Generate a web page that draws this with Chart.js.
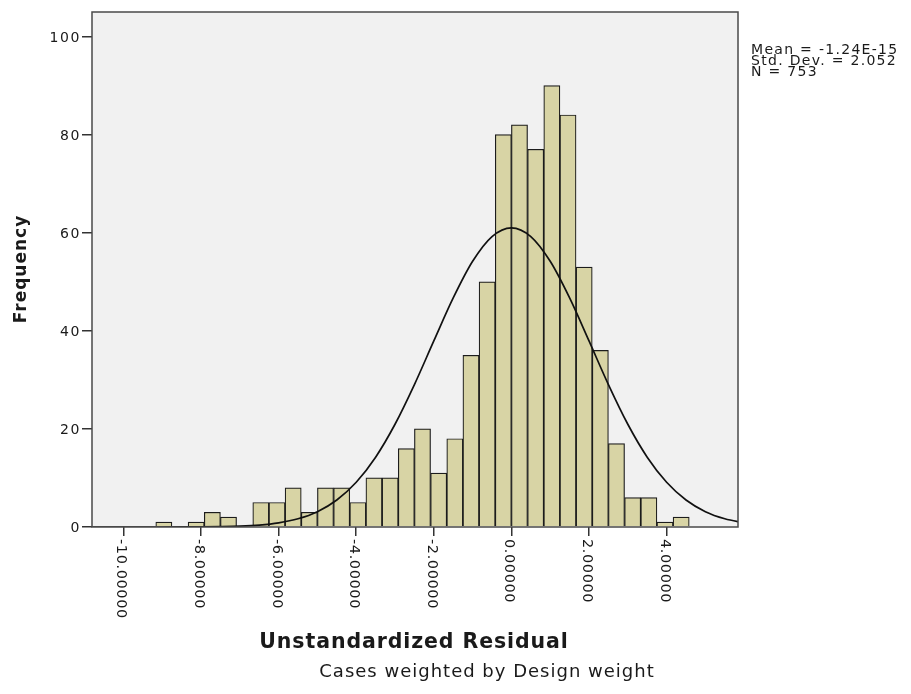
<!DOCTYPE html>
<html lang="en">
<head>
    <meta charset="UTF-8">
    <title>Histogram - Unstandardized Residual</title>
    <script src="https://cdn.jsdelivr.net/npm/chart.js"></script>
    <style>
        html, body { margin: 0; padding: 0; background: #fff; }
        canvas { display: block; }
    </style>
</head>
<body>
    <canvas id="histogram" width="911" height="694"></canvas>
    <script>
        // histogram bins (width 0.4167), centre of each bin
        const binCentres = [
            -8.958, -8.542, -8.125, -7.708, -7.292, -6.875, -6.458, -6.042, -5.625, -5.208,
            -4.792, -4.375, -3.958, -3.542, -3.125, -2.708, -2.292, -1.875, -1.458, -1.042,
            -0.625, -0.208, 0.208, 0.625, 1.042, 1.458, 1.875, 2.292, 2.708, 3.125,
            3.542, 3.958, 4.375
        ];
        const frequencies = [
            1, 0, 1, 3, 2, 0, 5, 5, 8, 3,
            8, 8, 5, 10, 10, 16, 20, 11, 18, 35,
            50, 80, 82, 77, 90, 84, 53, 36, 17, 6,
            6, 1, 2
        ];

        // normal curve overlay, read at half-unit steps
        const curveX = [
            -11, -10.5, -10, -9.5, -9, -8.5, -8, -7.5, -7, -6.5, -6, -5.5, -5, -4.5, -4, -3.5,
            -3, -2.5, -2, -1.5, -1, -0.5, 0, 0.5, 1, 1.5, 2, 2.5, 3, 3.5, 4, 4.5, 5, 5.5, 6
        ];
        const curveY = [
            0, 0, 0, 0, 0, 0.01, 0.03, 0.08, 0.18, 0.40, 0.85, 1.68, 3.13, 5.51, 9.12, 14.24,
            20.95, 29.04, 37.94, 46.70, 54.17, 59.22, 61.0, 59.22, 54.17, 46.70, 37.94, 29.04, 20.95, 14.24, 9.12, 5.51, 3.13, 1.68, 0.85
        ];

        const xTickValues = [-10, -8, -6, -4, -2, 0, 2, 4];
        const yTickValues = [0, 20, 40, 60, 80, 100];
        const statsLines = ['Mean = -1.24E-15', 'Std. Dev. = 2.052', 'N = 753'];
        const xTitle = 'Unstandardized Residual';
        const yTitle = 'Frequency';
        const footnote = 'Cases weighted by Design weight';

        const textColor = '#1a1a1a';

        function drawText(ctx, text, x, y, font, spacing, align, angle) {
            ctx.save();
            ctx.translate(x, y);
            if (angle) ctx.rotate(angle);
            ctx.font = font;
            ctx.letterSpacing = spacing + 'px';
            ctx.fillStyle = textColor;
            ctx.textAlign = align;
            ctx.textBaseline = 'alphabetic';
            ctx.fillText(text, 0, 0);
            ctx.restore();
        }

        // plot background, frame and all SPSS-style texts
        const spssPlugin = {
            id: 'spssFrame',
            beforeDraw(chart) {
                const { ctx, chartArea: a } = chart;
                ctx.save();
                ctx.fillStyle = '#f1f1f1';
                ctx.fillRect(a.left, a.top, a.right - a.left, a.bottom - a.top);
                ctx.restore();
            },
            afterDraw(chart) {
                const { ctx, chartArea: a } = chart;
                const xs = chart.scales.x;
                const ys = chart.scales.y;

                ctx.save();
                ctx.strokeStyle = '#4a4a4a';
                ctx.lineWidth = 1.5;
                ctx.strokeRect(a.left, a.top, a.right - a.left, a.bottom - a.top);
                ctx.restore();

                // y tick labels
                yTickValues.forEach(v => {
                    drawText(ctx, String(v), 81, ys.getPixelForValue(v) + 5,
                        '14px "DejaVu Sans"', 1.6, 'right', 0);
                });

                // x tick labels, reading downwards
                xTickValues.forEach(v => {
                    const px = xs.getPixelForValue(v);
                    drawText(ctx, v.toFixed(5), px - 6, 539,
                        '14.5px "DejaVu Sans"', 0.6, 'left', Math.PI / 2);
                });

                drawText(ctx, yTitle, 26, 269, 'bold 17px "DejaVu Sans"', 1, 'center', -Math.PI / 2);
                drawText(ctx, xTitle, 414, 648, 'bold 20.5px "DejaVu Sans"', 0.9, 'center', 0);
                drawText(ctx, footnote, 487, 677, '18px "DejaVu Sans"', 1, 'center', 0);

                statsLines.forEach((line, i) => {
                    drawText(ctx, line, 751, 53.5 + i * 11, '14px "DejaVu Sans"', 1.3, 'left', 0);
                });
            }
        };

        const ctx = document.getElementById('histogram').getContext('2d');
        new Chart(ctx, {
            type: 'bar',
            data: {
                datasets: [
                    {
                        type: 'line',
                        data: curveX.map((x, i) => ({ x: x, y: curveY[i] })),
                        borderColor: '#111',
                        borderWidth: 1.7,
                        pointRadius: 0,
                        fill: false,
                        cubicInterpolationMode: 'monotone',
                        order: 0
                    },
                    {
                        type: 'bar',
                        data: binCentres.map((x, i) => ({ x: x, y: frequencies[i] })),
                        backgroundColor: '#d8d4a5',
                        borderColor: '#1c1c1c',
                        borderWidth: 1.2,
                        barPercentage: 1,
                        categoryPercentage: 1,
                        grouped: false,
                        order: 1
                    }
                ]
            },
            options: {
                responsive: false,
                animation: false,
                events: [],
                layout: {
                    padding: { left: 0, top: 12, right: 173, bottom: 0 }
                },
                plugins: {
                    legend: { display: false },
                    tooltip: { enabled: false }
                },
                scales: {
                    x: {
                        type: 'linear',
                        min: -10.81,
                        max: 5.84,
                        offset: false,
                        afterBuildTicks: scale => {
                            scale.ticks = xTickValues.map(v => ({ value: v }));
                        },
                        afterFit: scale => { scale.height = 694 - 527; },
                        ticks: { display: false },
                        grid: {
                            offset: false,
                            drawOnChartArea: false,
                            drawTicks: true,
                            tickLength: 9,
                            color: '#333',
                            lineWidth: 1.5
                        },
                        border: { display: false }
                    },
                    y: {
                        min: 0,
                        max: 105,
                        afterBuildTicks: scale => {
                            scale.ticks = yTickValues.map(v => ({ value: v }));
                        },
                        afterFit: scale => { scale.width = 92; },
                        ticks: { display: false },
                        grid: {
                            drawOnChartArea: false,
                            drawTicks: true,
                            tickLength: 10,
                            color: '#333',
                            lineWidth: 1.5
                        },
                        border: { display: false }
                    }
                }
            },
            plugins: [spssPlugin]
        });
    </script>
</body>
</html>
